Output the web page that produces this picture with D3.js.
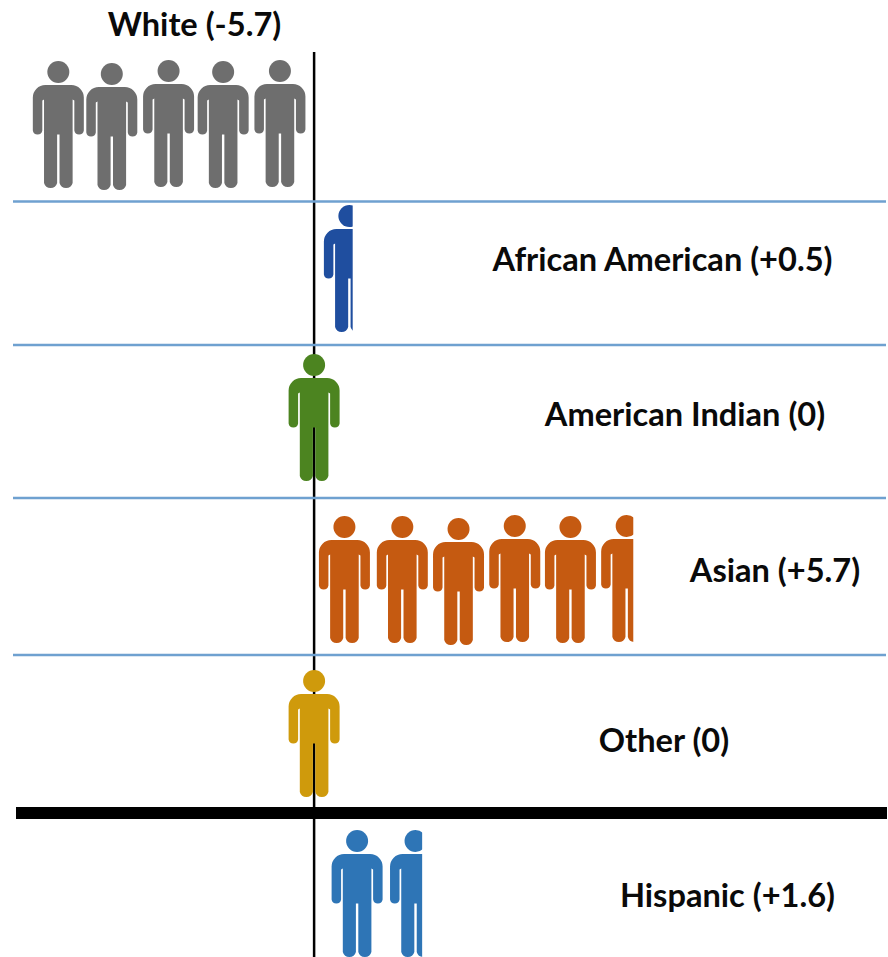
<!DOCTYPE html>
<html><head><meta charset="utf-8">
<script src="https://cdn.jsdelivr.net/npm/d3@7"></script>
<style>html,body{margin:0;padding:0;background:#fff}svg{display:block}</style>
</head><body><script>
const categories=["White","African American","American Indian","Asian","Other","Hispanic"];
const values=[-5.7,0.5,0,5.7,0,1.6];
const valueLabels=["-5.7","+0.5","0","+5.7","0","+1.6"];
const colors=["#6e6e6e","#1f4e9f","#4c8420","#c55a11","#cf9a0c","#2e75b6"];
// figure centres, in chart units from zero
const figureCentres=[[-4.64,-3.67,-2.64,-1.65,-0.62],[0.64],[0],[0.55,1.6,2.62,3.64,4.65,5.67],[0],[0.78,1.84]];
// head tops of figures, in picture rows
const figureTops=[[61,63,60,61,60],[205],[354],[516,516,518,515,516,515],[670],[830,830]];
const barStarts=[0,0.2,0,0.09,0,0.36];
const labelCentres=[194.5,662.5,685,775,664,727.5];
const labelRows=[36,271,426,582,752,907];
const separators=[201.5,345,498,655];
const heavyRule=[813];
const W=888,H=957;
const x=d3.scaleLinear().domain([-5.709,10.4]).range([-0.6,W-0.6]);
const y=d3.scaleLinear().domain([0,H]).range([0,H]);
const svg=d3.select("body").append("svg").attr("width",W).attr("height",H);
svg.append("rect").attr("width",W).attr("height",H).attr("fill","#fff");
const PERSON="M-13,24H13A12.5,12.5 0 0 1 25.5,36.5V69.5A4.8,4.8 0 0 1 16,69.5V39.5L14.3,38.5V122A6.8,6.8 0 0 1 1.2,122V73.5H-1.2V122A6.8,6.8 0 0 1 -14.3,122V38.5L-16,39.5V69.5A4.8,4.8 0 0 1 -25.5,69.5V36.5A12.5,12.5 0 0 1 -13,24Z";
svg.append("line").attr("x1",x(0)).attr("x2",x(0)).attr("y1",y(52)).attr("y2",y(957)).attr("stroke","#000").attr("stroke-width",2.5);
svg.selectAll("line.sep").data(separators).join("line").attr("class","sep")
 .attr("x1",13).attr("x2",886).attr("y1",d=>y(d)).attr("y2",d=>y(d)).attr("stroke","#6fa1d0").attr("stroke-width",2.5);
svg.selectAll("line.heavy").data(heavyRule).join("line").attr("class","heavy")
 .attr("x1",16).attr("x2",887).attr("y1",d=>y(d)).attr("y2",d=>y(d)).attr("stroke","#000").attr("stroke-width",12);
const defs=svg.append("defs");
categories.forEach((c,i)=>{
  const g=svg.append("g").attr("fill",colors[i]);
  if(values[i]>0){
    const id="clip"+i;
    defs.append("clipPath").attr("id",id).append("rect")
      .attr("x",x(0)).attr("y",0)
      .attr("width",x(barStarts[i]+values[i])-x(0)).attr("height",H);
    g.attr("clip-path",`url(#${id})`);
  }
  figureCentres[i].forEach((cx,j)=>{
    const p=g.append("g").attr("transform",`translate(${x(cx)},${y(figureTops[i][j])})`);
    p.append("circle").attr("cx",0).attr("cy",11).attr("r",11);
    p.append("path").attr("d",PERSON);
  });
  svg.append("text").attr("x",labelCentres[i]).attr("y",y(labelRows[i]))
    .attr("text-anchor","middle").attr("font-family","Lato, 'Open Sans', sans-serif")
    .attr("font-weight",700).attr("font-size",32.6).attr("fill","#0a0a0a")
    .text(`${c} (${valueLabels[i]})`);
});
</script></body></html>
